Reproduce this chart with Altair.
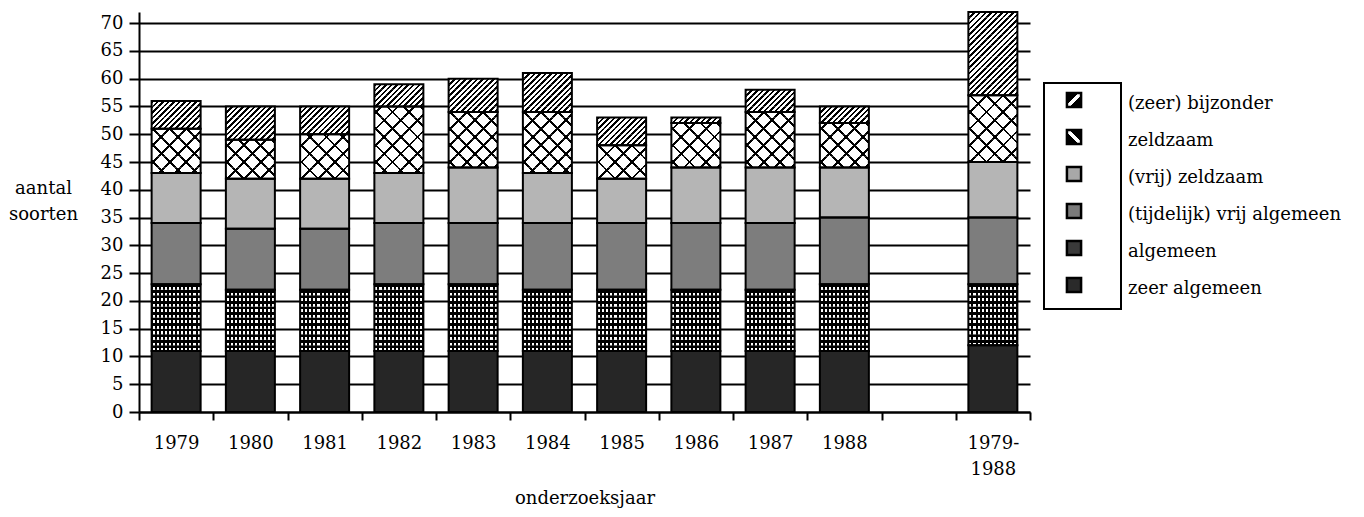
import math
import altair as alt
import pandas as pd

# ---------------- data ----------------
years = ["1979", "1980", "1981", "1982", "1983", "1984", "1985", "1986",
         "1987", "1988", "1979-1988"]
slots = years[:10] + [" ", "1979-1988"]
categories = ["zeer algemeen", "algemeen", "(tijdelijk) vrij algemeen",
              "(vrij) zeldzaam", "zeldzaam", "(zeer) bijzonder"]
zeer_algemeen = [11, 11, 11, 11, 11, 11, 11, 11, 11, 11, 12]
algemeen = [12, 11, 11, 12, 12, 11, 11, 11, 11, 12, 11]
tijdelijk_vrij_algemeen = [11, 11, 11, 11, 11, 12, 12, 12, 12, 12, 12]
vrij_zeldzaam = [9, 9, 9, 9, 10, 9, 8, 10, 10, 9, 10]
zeldzaam = [8, 7, 8, 12, 10, 11, 6, 8, 10, 8, 12]
zeer_bijzonder = [5, 6, 5, 4, 6, 7, 5, 1, 4, 3, 15]
y_ticks = list(range(0, 71, 5))

series = [zeer_algemeen, algemeen, tijdelijk_vrij_algemeen,
          vrij_zeldzaam, zeldzaam, zeer_bijzonder]

seg_rows, cell_rows = [], []
for ci, (cat, vals) in enumerate(zip(categories, series)):
    for yr, v in zip(years, vals):
        seg_rows.append({"year": yr, "cat": cat, "order": ci, "value": v})
        for j in range(v):
            cell_rows.append({"year": yr, "cat": cat, "key": ci * 100 + j, "one": 1})
seg = pd.DataFrame(seg_rows)
cells = pd.DataFrame(cell_rows)
legend_order = categories[::-1]
leg = pd.DataFrame({"cat": legend_order, "order": list(range(len(legend_order)))})

# ---------------- geometry / style ----------------
W, H = 891, 400
YMAX = 72
UNIT = H / YMAX
STEP = W / len(slots)
BAND = 0.66
BAR = BAND * STEP
FONT = "DejaVu Serif"
CLEAR = "rgba(0,0,0,0)"


def stripes(x1, y1, x2, y2, periods, phase0, duty, on, off):
    def col(t):
        p = t * periods + phase0
        return on if (p - math.floor(p)) < duty else off
    cuts = []
    for m in range(math.floor(phase0) - 2, math.ceil(periods + phase0) + 2):
        for e in (m, m + duty):
            t = (e - phase0) / periods
            if 1e-6 < t < 1 - 1e-6:
                cuts.append(t)
    cuts.sort()
    stops = [alt.GradientStop(offset=0, color=col(1e-9))]
    for t in cuts:
        stops.append(alt.GradientStop(offset=round(t, 6), color=col(t - 1e-7)))
        stops.append(alt.GradientStop(offset=round(t, 6), color=col(t + 1e-7)))
    stops.append(alt.GradientStop(offset=1, color=col(1 - 1e-9)))
    return alt.LinearGradient(gradient="linear", stops=stops,
                              x1=x1, y1=y1, x2=x2, y2=y2)


cdiag = (BAR + UNIT) / (BAR ** 2 + UNIT ** 2)


def fwd(pd_mult, phase0, duty, on, off):
    per = (BAR + UNIT) / (pd_mult * UNIT)
    return stripes(0, 0, cdiag * BAR, cdiag * UNIT, per, phase0, duty, on, off)


def back(pd_mult, phase0, duty, on, off):
    per = (BAR + UNIT) / (pd_mult * UNIT)
    return stripes(0, 1, cdiag * BAR, 1 - cdiag * UNIT, per, phase0, duty, on, off)


xaxis = alt.Axis(tickBand="extent", tickSize=8, tickWidth=2, tickColor="black",
                 domainColor="black", domainWidth=2, labelAngle=0, labelFont=FONT,
                 labelFontSize=18, labelColor="black", labelPadding=14,
                 labelLineHeight=26, labelOverlap=False,
                 labelExpr="datum.value == '1979-1988' ? ['1979-', '1988'] : datum.label",
                 title="onderzoeksjaar", titleFont=FONT, titleFontSize=18,
                 titleFontWeight="normal", titleColor="black", titleY=91,
                 titleBaseline="alphabetic")
yaxis = alt.Axis(values=y_ticks, tickSize=10, tickWidth=2, tickColor="black",
                 domainColor="black", domainWidth=2, grid=True, gridColor="black",
                 gridWidth=2, labelFont=FONT, labelFontSize=18, labelColor="black",
                 labelPadding=6, title=["aantal", "soorten"], titleAngle=0,
                 titleAlign="center", titleBaseline="alphabetic", titleX=-96,
                 titleY=181, titleFont=FONT, titleFontSize=18,
                 titleFontWeight="normal", titleColor="black", titleLineHeight=26)
xscale = alt.Scale(domain=slots, paddingInner=0, paddingOuter=0)
yscale = alt.Scale(domain=[0, YMAX], nice=False)


def enc():
    return dict(x=alt.X("year:N", scale=xscale, axis=xaxis),
                y=alt.Y("y0:Q", scale=yscale, axis=yaxis),
                y2="y1:Q")


def seg_chart():
    return alt.Chart(seg).transform_stack(
        stack="value", groupby=["year"], sort=[alt.SortField("order", "ascending")],
        as_=["y0", "y1"])


def cell_chart(cat, extra=None):
    c = alt.Chart(cells).transform_stack(
        stack="one", groupby=["year"], sort=[alt.SortField("key", "ascending")],
        as_=["y0", "y1"]).transform_filter(alt.datum.cat == cat)
    if extra is not None:
        c = c.transform_filter(extra)
    return c


base_colors = ["#262626", "white", "#7d7d7d", "#b5b5b5", "white", "white"]
base = seg_chart().mark_bar(width=alt.RelativeBandSize(BAND), strokeWidth=0).encode(
    fill=alt.Fill("cat:N", scale=alt.Scale(domain=categories, range=base_colors),
                  legend=None),
    **enc())

layers = [base]
# algemeen: white dots on black
layers.append(cell_chart("algemeen").mark_bar(
    width=alt.RelativeBandSize(BAND), strokeWidth=0,
    fill=stripes(0, 0, 0, 1, 1, 0, 0.5, "black", "white")).encode(**enc()))
layers.append(cell_chart("algemeen").mark_bar(
    width=alt.RelativeBandSize(BAND), strokeWidth=0,
    fill=stripes(0, 0, 1, 0, 12, 0.25, 0.5, "black", CLEAR)).encode(**enc()))
# zeldzaam: diagonal cross lines
for r in range(3):
    f_phase = ((71 - r) % 3) / 3
    b_phase = ((r - 72) % 3) / 3
    cond = f"datum.y0 % 3 == {r}"
    layers.append(cell_chart("zeldzaam", cond).mark_bar(
        width=alt.RelativeBandSize(BAND), strokeWidth=0,
        fill=fwd(3, f_phase, 0.17, "black", CLEAR)).encode(**enc()))
    layers.append(cell_chart("zeldzaam", cond).mark_bar(
        width=alt.RelativeBandSize(BAND), strokeWidth=0,
        fill=back(3, b_phase, 0.17, "black", CLEAR)).encode(**enc()))
# (zeer) bijzonder: diagonal hatching
layers.append(cell_chart("(zeer) bijzonder").mark_bar(
    width=alt.RelativeBandSize(BAND), strokeWidth=0,
    fill=fwd(1, 0, 0.45, "black", "white")).encode(**enc()))
# outlines
layers.append(seg_chart().mark_bar(
    width=alt.RelativeBandSize(BAND), fill="transparent", stroke="black",
    strokeWidth=2).encode(**enc()))

main = alt.layer(*layers)

# ---------------- legend ----------------
LEG_RANGE = [88, 273]
ly = alt.Y("cat:N", scale=alt.Scale(domain=legend_order, range=LEG_RANGE, padding=0),
           axis=None)

box = alt.Chart(leg).transform_filter(alt.datum.order == 0).mark_rect(
    fill="transparent", stroke="black", strokeWidth=2).encode(
    x=alt.value(905), x2=alt.value(982), y=alt.value(71), y2=alt.value(297))

swatch_fill = {
    "(zeer) bijzonder": stripes(0, 0, 1, 1, 1, 0.4, 0.8, "black", "white"),
    "zeldzaam": stripes(0, 1, 1, 0, 1, 0.4, 0.8, "black", "white"),
    "(vrij) zeldzaam": "#a8a8a8",
    "(tijdelijk) vrij algemeen": "#7a7a7a",
    "algemeen": "#3a3a3a",
    "zeer algemeen": "#2a2a2a",
}
swatches = []
for cat in legend_order:
    swatches.append(alt.Chart(leg).transform_filter(alt.datum.cat == cat).mark_square(
        size=200, fill=swatch_fill[cat], stroke="black", strokeWidth=2.5,
        opacity=1).encode(x=alt.value(935), y=ly))

texts = alt.Chart(leg).mark_text(
    align="left", baseline="middle", dy=4, font=FONT, fontSize=18,
    color="black").encode(x=alt.value(989), y=ly, text="cat:N")

legend = alt.layer(box, *swatches, texts)

chart = alt.layer(main, legend).resolve_scale(y="independent").properties(
    width=W, height=H,
    autosize=alt.AutoSizeParams(type="none"),
    padding={"left": 131, "top": 4, "right": 326, "bottom": 97},
    background="white",
).configure_view(strokeWidth=0)

chart.save("out.html", embed_options={"renderer": "svg", "actions": False})
